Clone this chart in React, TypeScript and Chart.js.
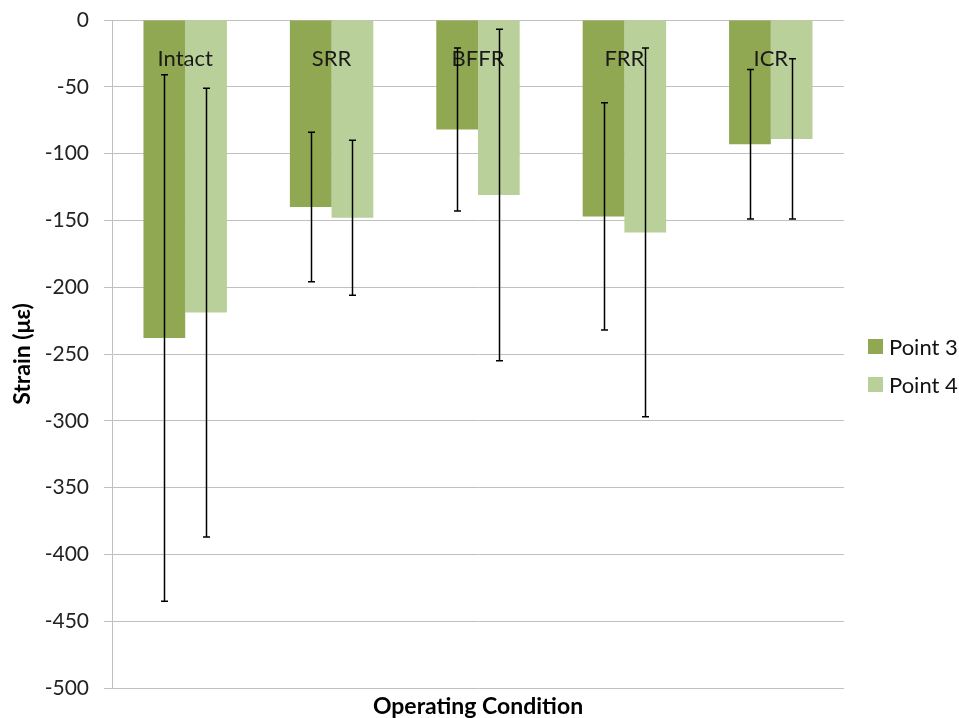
import React, { useEffect, useRef } from "react";
import { Chart, registerables } from "chart.js";
Chart.register(...registerables);

const categories = ["Intact", "SRR", "BFFR", "FRR", "ICR"];
const seriesNames = ["Point 3", "Point 4"];
const point3 = [-238, -140, -82, -147, -93];
const point4 = [-219, -148, -131, -159, -89];
const point3Err = [197, 56, 61, 85, 56];
const point4Err = [168, 58, 124, 138, 60];
const yMin = -500;
const yMax = 0;
const yStep = 50;

const colors = ["#8FA851", "#BAD09A"];
const FONT = "Lato, 'Open Sans', sans-serif";

const overlayPlugin = {
  id: "overlay",
  afterDatasetsDraw(chart: any) {
    const ctx = chart.ctx;
    const xs = chart.scales.x;
    const ys = chart.scales.y;
    ctx.save();
    // category labels just below the zero axis
    ctx.font = `22px ${FONT}`;
    ctx.fillStyle = "#1a1a1a";
    ctx.textAlign = "center";
    ctx.textBaseline = "middle";
    const y0 = ys.getPixelForValue(0);
    categories.forEach((c, i) => {
      ctx.fillText(c, xs.getPixelForValue(i), y0 + 39);
    });
    // error bars
    const errs = [point3Err, point4Err];
    ctx.strokeStyle = "#000";
    ctx.lineWidth = 1.5;
    chart.data.datasets.forEach((ds: any, di: number) => {
      const meta = chart.getDatasetMeta(di);
      meta.data.forEach((bar: any, i: number) => {
        const v = ds.data[i];
        const e = errs[di][i];
        const yt = ys.getPixelForValue(v + e);
        const yb = ys.getPixelForValue(v - e);
        const x = Math.round(bar.x) + 0.5;
        ctx.beginPath();
        ctx.moveTo(x, yt);
        ctx.lineTo(x, yb);
        ctx.moveTo(x - 3.5, yt);
        ctx.lineTo(x + 3.5, yt);
        ctx.moveTo(x - 3.5, yb);
        ctx.lineTo(x + 3.5, yb);
        ctx.stroke();
      });
    });
    ctx.restore();
  },
};

export default function App() {
  const ref = useRef<HTMLCanvasElement | null>(null);
  useEffect(() => {
    document.body.style.margin = "0";
    if (!ref.current) return;
    const chart = new Chart(ref.current, {
      type: "bar",
      data: {
        labels: categories,
        datasets: [
          {
            label: seriesNames[0],
            data: point3,
            backgroundColor: colors[0],
            categoryPercentage: 0.57,
            barPercentage: 1.0,
          },
          {
            label: seriesNames[1],
            data: point4,
            backgroundColor: colors[1],
            categoryPercentage: 0.57,
            barPercentage: 1.0,
          },
        ],
      },
      options: {
        responsive: false,
        animation: false,
        layout: { padding: { top: 20, right: 115, bottom: 0, left: 0 } },
        plugins: {
          legend: { display: false },
          tooltip: { enabled: false },
        },
        scales: {
          x: {
            grid: { display: false },
            border: { display: false },
            ticks: { display: false },
            title: {
              display: true,
              text: "Operating Condition",
              font: { family: FONT, size: 23, weight: "bold" },
              color: "#000",
              padding: { top: 0, bottom: -2 },
            },
            afterFit(s: any) {
              s.height = 30;
              s.paddingLeft = 0;
              s.paddingRight = 0;
            },
          },
          y: {
            min: yMin,
            max: yMax,
            ticks: {
              stepSize: yStep,
              font: { family: FONT, size: 21 },
              color: "#222",
              padding: 15,
            },
            grid: { color: "#c0c0c0", tickLength: 8, lineWidth: 1 },
            border: { color: "#c0c0c0" },
            title: {
              display: true,
              text: "Strain (με)",
              font: { family: FONT, size: 23, weight: "bold" },
              color: "#000",
              padding: { top: 9, bottom: 0 },
            },
            afterFit(s: any) {
              s.width = 112;
              s.paddingTop = 0;
              s.paddingBottom = 0;
            },
          },
        },
      },
      plugins: [overlayPlugin],
    });
    return () => chart.destroy();
  }, []);

  const legendItem = (i: number, top: number) => (
    <div
      style={{
        position: "absolute",
        left: 868,
        top,
        display: "flex",
        alignItems: "center",
        fontFamily: FONT,
        fontSize: 22,
        color: "#111",
        whiteSpace: "nowrap",
      }}
    >
      <span
        style={{
          display: "inline-block",
          width: 15,
          height: 15,
          background: colors[i],
          marginRight: 6,
        }}
      />
      <span>{seriesNames[i]}</span>
    </div>
  );

  return (
    <div style={{ position: "relative", width: 959, height: 718 }}>
      <canvas ref={ref} width={959} height={718} style={{ display: "block" }} />
      {legendItem(0, 333)}
      {legendItem(1, 371)}
    </div>
  );
}
